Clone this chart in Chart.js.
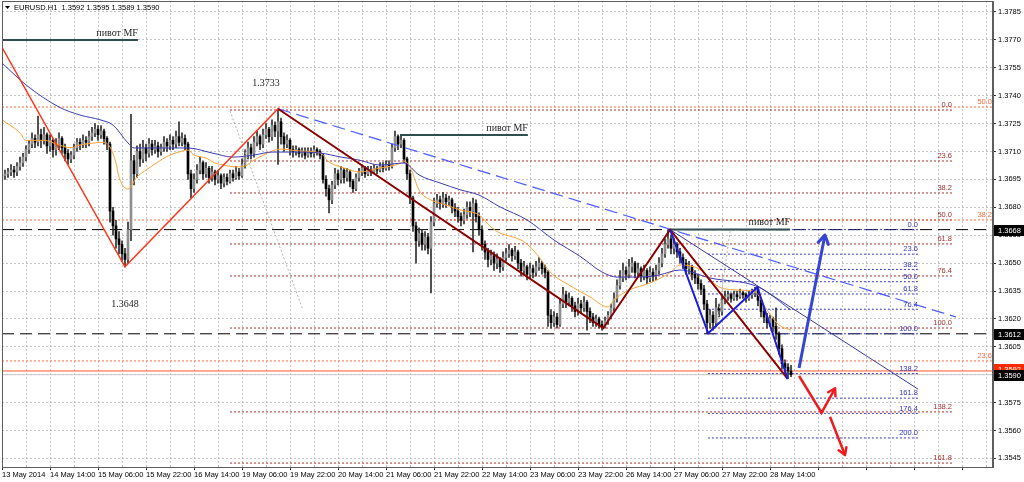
<!DOCTYPE html>
<html>
<head>
<meta charset="utf-8">
<title>EURUSD H1</title>
<script src="https://cdn.jsdelivr.net/npm/chart.js@4.4.1/dist/chart.umd.min.js"></script>
<style>
  html, body { margin: 0; padding: 0; background: #ffffff; overflow: hidden; }
  canvas { display: block; }
</style>
</head>
<body>
<canvas id="eurusd-chart" width="1024" height="482"></canvas>
<script>
// candle prices are kept in pips above 1.3500 (212 -> 1.3712), one entry per H1 bar
var pipBase = 1.35;
function pip(v) { return pipBase + v / 10000; }

var xLabels = ["13 May 2014", "14 May 14:00", "15 May 06:00", "15 May 22:00", "16 May 14:00",
    "19 May 06:00", "19 May 22:00", "20 May 14:00", "21 May 06:00", "21 May 22:00",
    "22 May 14:00", "23 May 06:00", "23 May 22:00", "26 May 14:00", "27 May 06:00",
    "27 May 22:00", "28 May 14:00"];
var yTickValues = [1.3545, 1.3560, 1.3575, 1.3590, 1.3605, 1.3620, 1.3635, 1.3650, 1.3665,
    1.3680, 1.3695, 1.3710, 1.3725, 1.3740, 1.3755, 1.3770, 1.3785];

var opens = [
    196,197,198,199,200,199,202,204,207,211, 214,217,215,219,216,219,213,216,211,214,
    217,212,209,206,208,212,215,214,216,215, 218,220,222,219,221,217,214,178,170,163,
    160,155,152,168,205,198,210,206,212,209, 214,211,213,210,212,215,213,216,214,218,
    215,217,214,198,190,195,200,204,198,201, 196,199,195,197,193,196,194,198,196,199,
    197,203,208,212,209,215,218,214,219,222, 218,224,221,226,218,214,216,211,210,211,
    209,210,208,210,209,211,210,208,195,190, 184,192,198,195,200,196,199,194,190,196,
    199,201,198,200,199,201,200,202,201,203, 202,212,218,214,216,206,198,185,170,162,
    166,160,164,158,172,182,184,182,185,183, 184,180,178,175,173,176,180,178,182,175,
    168,160,156,152,154,150,152,148,153,155, 157,154,156,150,146,148,144,147,145,148,
    150,147,145,122,118,121,117,128,133,129, 131,127,124,128,126,129,124,121,118,120,
    117,116,119,122,126,131,138,142,146,144, 148,150,145,147,143,146,142,145,143,146,
    150,155,160,163,158,160,156,153,150,147, 148,144,142,139,136,128,118,122,118,126,
    124,130,132,133,131,133,132,134,133,131, 133,134,136,130,124,121,118,120,116,112,
    104,96,94,92
];
var highs = [
    199,200,201,203,202,204,207,209,213,216, 220,219,229,222,223,220,219,217,217,220,
    218,214,211,210,214,217,217,219,218,221, 223,225,224,224,222,218,215,180,173,167,
    162,158,172,230,208,213,214,216,214,217, 216,216,215,214,218,217,219,218,221,226,
    220,219,215,200,198,203,207,205,204,202, 202,200,200,198,198,198,200,200,202,201,
    206,211,215,214,218,221,219,222,225,223, 227,226,233,228,220,219,217,213,213,212,
    212,212,212,212,213,212,211,209,197,192, 194,201,200,202,201,201,200,195,198,201,
    203,202,202,202,203,202,204,204,205,205, 214,221,219,219,217,207,200,186,172,169,
    168,167,166,175,185,187,186,188,187,186, 185,182,180,177,179,183,183,185,184,177,
    170,162,158,157,156,155,153,156,158,160, 158,159,157,152,151,149,150,149,151,153,
    151,149,146,125,124,123,131,137,135,134, 132,129,131,130,132,130,126,123,122,121,
    119,121,124,128,134,141,146,150,148,152, 153,151,150,148,149,147,148,147,149,153,
    158,163,168,165,163,161,158,155,152,151, 149,146,144,141,138,130,125,124,131,128,
    133,135,135,134,135,135,136,135,134,135, 136,137,137,131,126,123,122,121,126,113,
    106,98,96,95
];
var lows = [
    194,195,196,197,196,197,200,202,205,209, 212,212,213,212,214,209,210,207,208,211,
    209,205,203,204,206,210,211,212,212,213, 216,218,216,217,214,211,172,165,158,155,
    151,148,150,162,192,196,202,204,205,207, 208,209,207,208,210,210,211,211,212,213,
    213,211,195,185,188,193,198,195,196,193, 194,192,193,190,191,192,193,194,195,195,
    196,201,206,206,207,213,211,212,217,215, 216,218,203,214,210,212,208,207,208,207,
    207,206,207,207,207,208,206,193,186,177, 182,190,192,193,193,194,191,188,189,194,
    197,196,197,197,198,198,199,199,200,200, 201,210,211,212,204,195,182,167,150,159,
    157,157,155,134,170,180,179,180,180,181, 177,175,172,170,171,174,175,156,172,165,
    157,152,148,149,146,147,145,146,151,153, 151,152,147,143,144,141,142,142,143,146,
    144,142,116,115,116,115,116,126,126,127, 124,121,122,123,124,114,118,116,116,115,
    114,115,117,120,124,129,136,140,141,142, 145,142,143,140,141,139,140,140,141,144,
    148,153,158,155,155,153,150,147,144,144, 141,139,136,133,125,112,115,114,116,121,
    122,128,130,129,130,130,131,131,129,130, 131,132,127,121,118,115,116,113,109,101,
    93,91,88,89
];
var closes = [
    197,198,199,200,199,202,204,207,211,214, 217,215,219,216,219,213,216,211,214,217,
    212,209,206,208,212,215,214,216,215,218, 220,222,219,221,217,214,178,170,163,160,
    155,152,168,205,198,210,206,212,209,214, 211,213,210,212,215,213,216,214,218,215,
    217,214,198,190,195,200,204,198,201,196, 199,195,197,193,196,194,198,196,199,197,
    203,208,212,209,215,218,214,219,222,218, 224,221,226,218,214,216,211,210,211,209,
    210,208,210,209,211,210,208,195,190,184, 192,198,195,200,196,199,194,190,196,199,
    201,198,200,199,201,200,202,201,203,202, 212,218,214,216,206,198,185,170,162,166,
    160,164,158,172,182,184,182,185,183,184, 180,178,175,173,176,180,178,182,175,168,
    160,156,152,154,150,152,148,153,155,157, 154,156,150,146,148,144,147,145,148,150,
    147,145,122,118,121,117,128,133,129,131, 127,124,128,126,129,124,121,118,120,117,
    116,119,122,126,131,138,142,146,144,148, 150,145,147,143,146,142,145,143,146,150,
    155,160,163,158,160,156,153,150,147,148, 144,142,139,136,128,118,122,118,126,124,
    130,132,133,131,133,132,134,133,131,133, 134,136,130,124,121,118,120,116,112,104,
    96,94,92,90
];

// moving averages (bar index, pips)
var fastMaBars = [0,6,8,14,19,23,26,31,34,36, 38,39,42,45,49,53,56,59,62,64,
    68,71,74,78,81,84,88,91,93,99, 106,109,113,116,119,126,133,134,136,139,
    143,146,153,159,163,166,173,176,179,183, 189,196,202,204,209,216,223,226,233,239,
    246,251,255,259,263];
var fastMaValues = [227,220,216,216,213.5,212,213.5,214.6,215,212.4, 203.8,196.3,189.8,196.3,201.1,205.4,208.1,209.7,210.8,208.1,
    206.5,203.8,202.7,201.7,202.2,205.4,208.7,210.8,211.3,210.3, 209.2,204.4,201.7,200.1,199,201.1,203.8,204.9,201.7,189.3,
    183.9,182.3,178.5,175.9,169.4,166.2,162.4,158.7,153.3,144.7, 138.2,131.8,126.4,130.2,135.5,139.3,145.2,149,146.3,137.2,
    135.5,134.5,124.8,116.7,114];
var slowMaBars = [0,8,19,26,33,37,42,44,50,62, 70,77,84,90,97,106,113,119,126,134,
    139,146,153,159,166,175,184,193,200,205, 213,219,226,236,252,263];
var slowMaValues = [257.6,245.8,233.9,229.6,226.9,224.2,214.6,211.9,211.9,211.9, 209.2,207,208.1,209.7,209.7,209.2,207,205.4,202.7,203.8,
    197.4,193.1,189.3,186.6,180.2,173.2,162.4,153.3,145.2,142.5, 142.5,143.6,146.3,142,137.2,124.8];

// drawn objects (bar index, price)
var redZigBars = [0, 41, 92];
var redZigPrices = [1.3766, 1.3648, 1.3733];
var brownZigBars = [92, 200.4, 222.7, 261.9];
var brownZigPrices = [1.3733, 1.3615, 1.3668, 1.35877];
var blueZigBars = [222.7, 235.4, 251.8, 261.9];
var blueZigPrices = [1.3668, 1.36123, 1.3637, 1.35877];
var dashTrendBars = [92, 318];
var dashTrendPrices = [1.3733, 1.3621];
var thinTrendBars = [222.7, 305.4];
var thinTrendPrices = [1.3668, 1.35822];
var grayRay1Bars = [76, 100.3];
var grayRay1Prices = [1.37318, 1.36248];
var grayRay2Bars = [238.2, 242.7];
var grayRay2Prices = [1.3615, 1.36671];

var pivotFrom = [0, 132.7, 222.7];
var pivotTo = [45.3, 175.3, 262.7];
var pivotPrices = [1.3770, 1.37189, 1.3668];

var blackLevels = [1.3668, 1.3612];
var askPrice = 1.3592;
var bidPrice = 1.3590;

var brownFibLevels = ["0.0", "23.6", "38.2", "50.0", "61.8", "76.4", "100.0", "138.2", "161.8"];
var brownFibPrices = [1.37323, 1.37049, 1.36877, 1.36732, 1.36603, 1.36431, 1.36151, 1.35700, 1.35425];
var brownFibFrom = 76, brownFibTo = 317;
var blueFibLevels = ["0.0", "23.6", "38.2", "50.0", "61.8", "76.4", "100.0", "138.2", "161.8", "176.4", "200.0"];
var blueFibPrices = [1.3668, 1.36548, 1.36466, 1.36400, 1.36334, 1.36252, 1.3612, 1.35906, 1.35774, 1.35692, 1.35560];
var blueFibFrom = 235.3, blueFibTo = 305.3;
var orangeFibLevels = ["50.0", "38.2", "23.6"];
var orangeFibPrices = [1.37339, 1.36732, 1.35974];

var blueArrowBars = [265.7, 274.3];
var blueArrowPrices = [1.35936, 1.36651];
var redArrowBars = [265.7, 273.2, 277.7];
var redArrowPrices = [1.35893, 1.35696, 1.35827];
var redArrow2Bars = [276, 281];
var redArrow2Prices = [1.35674, 1.35468];

var noteTexts = ["1.3733", "1.3648"];
var noteBars = [88, 41];
var notePrices = [1.37468, 1.3628];

var titleText = "EURUSD.H1  1.3592 1.3595 1.3589 1.3590";

var xMax = 991 / 3;
var yMin = 1.354038, yMax = 1.379091;

function seg(bars, prices, color, width, dash, order) {
    return {
        type: 'line',
        data: bars.map(function (b, i) { return { x: b, y: prices[i] }; }),
        borderColor: color,
        borderWidth: width,
        borderDash: dash || [],
        pointRadius: 0,
        fill: false,
        tension: 0,
        order: order
    };
}

var datasets = [];

// horizontal levels
orangeFibPrices.forEach(function (p) {
    datasets.push(seg([0, xMax], [p, p], '#ff6a3c', 1, [2, 2], 40));
});
brownFibPrices.forEach(function (p) {
    datasets.push(seg([brownFibFrom, brownFibTo], [p, p], '#b0302c', 1, [2, 2], 40));
});
blueFibPrices.forEach(function (p) {
    datasets.push(seg([blueFibFrom, blueFibTo], [p, p], '#3838c8', 1, [2, 2], 40));
});
blackLevels.forEach(function (p) {
    datasets.push(seg([0, xMax], [p, p], '#000000', 1, [12, 6], 40));
});
datasets.push(seg([0, xMax], [bidPrice, bidPrice], '#c8c8c8', 1, [], 41));
datasets.push(seg([0, xMax], [askPrice, askPrice], '#ff5a30', 1, [], 40));

// candles
var wickData = [], bullData = [], bearData = [];
for (var k = 0; k < closes.length; k++) {
    wickData.push({ x: k, y: [pip(lows[k]), pip(highs[k])] });
    var body = { x: k, y: [pip(opens[k]), pip(closes[k])] };
    if (closes[k] >= opens[k]) bullData.push(body); else bearData.push(body);
}
datasets.push({ type: 'bar', data: wickData, backgroundColor: '#303030', barThickness: 1, grouped: false, order: 32 });
datasets.push({ type: 'bar', data: bullData, backgroundColor: '#8e8e8e', barThickness: 2, minBarLength: 1, grouped: false, order: 30 });
datasets.push({ type: 'bar', data: bearData, backgroundColor: '#000000', barThickness: 2, minBarLength: 1, grouped: false, order: 30 });

// moving averages
datasets.push({
    type: 'line',
    data: slowMaBars.map(function (b, i) { return { x: b, y: pip(slowMaValues[i]) }; }),
    borderColor: '#3c3cb4', borderWidth: 1, pointRadius: 0, cubicInterpolationMode: 'monotone', order: 20
});
datasets.push({
    type: 'line',
    data: fastMaBars.map(function (b, i) { return { x: b, y: pip(fastMaValues[i]) }; }),
    borderColor: '#ffa436', borderWidth: 1, pointRadius: 0, cubicInterpolationMode: 'monotone', order: 20
});

// pivot lines
pivotPrices.forEach(function (p, i) {
    datasets.push(seg([pivotFrom[i], pivotTo[i]], [p, p], '#2f4f4f', 2, [], 8));
});

// trend lines and zigzags
datasets.push(seg(grayRay1Bars, grayRay1Prices, '#b4b4b4', 1, [2, 2], 12));
datasets.push(seg(grayRay2Bars, grayRay2Prices, '#b4b4b4', 1, [2, 2], 12));
datasets.push(seg(dashTrendBars, dashTrendPrices, '#4a5cff', 1.2, [13, 6], 10));
datasets.push(seg(thinTrendBars, thinTrendPrices, '#3a3aa0', 1, [], 10));
datasets.push(seg(redZigBars, redZigPrices, '#ff3418', 1.5, [], 5));
datasets.push(seg(brownZigBars, brownZigPrices, '#8b0000', 2, [], 5));
datasets.push(seg(blueZigBars, blueZigPrices, '#1c1ce0', 2, [], 4));

// arrows
datasets.push(seg(blueArrowBars, blueArrowPrices, '#3446d2', 3, [], 1));
datasets.push(seg(redArrowBars, redArrowPrices, '#ee1c1c', 2.5, [], 1));
datasets.push(seg(redArrow2Bars, redArrow2Prices, '#ee1c1c', 2.5, [], 1));

function arrowHead(ctx, x0, y0, x1, y1, color, len, width) {
    var a = Math.atan2(y1 - y0, x1 - x0);
    ctx.save();
    ctx.strokeStyle = color;
    ctx.lineWidth = width;
    ctx.lineCap = 'round';
    ctx.lineJoin = 'round';
    ctx.beginPath();
    ctx.moveTo(x1 - len * Math.cos(a - 0.55), y1 - len * Math.sin(a - 0.55));
    ctx.lineTo(x1, y1);
    ctx.lineTo(x1 - len * Math.cos(a + 0.55), y1 - len * Math.sin(a + 0.55));
    ctx.stroke();
    ctx.restore();
}

var smallFont = '7.5px "Liberation Sans", Arial, sans-serif';
var serifFont = '10px "Liberation Serif", "Times New Roman", serif';

var overlay = {
    id: 'overlay',
    afterDatasetsDraw: function (chart) {
        var ctx = chart.ctx, xs = chart.scales.x, ys = chart.scales.y;
        var X = function (v) { return xs.getPixelForValue(v); };
        var Y = function (v) { return ys.getPixelForValue(v); };
        ctx.save();
        ctx.beginPath();
        ctx.rect(chart.chartArea.left, chart.chartArea.top, chart.chartArea.right - chart.chartArea.left, chart.chartArea.bottom - chart.chartArea.top);
        ctx.clip();

        // arrow heads
        var n;
        arrowHead(ctx, X(blueArrowBars[0]), Y(blueArrowPrices[0]), X(blueArrowBars[1]), Y(blueArrowPrices[1]), '#3446d2', 10, 3);
        n = redArrowBars.length;
        arrowHead(ctx, X(redArrowBars[n - 2]), Y(redArrowPrices[n - 2]), X(redArrowBars[n - 1]), Y(redArrowPrices[n - 1]), '#ee1c1c', 8, 2.5);
        arrowHead(ctx, X(redArrow2Bars[0]), Y(redArrow2Prices[0]), X(redArrow2Bars[1]), Y(redArrow2Prices[1]), '#ee1c1c', 8, 2.5);

        // fib labels
        ctx.font = smallFont;
        ctx.textAlign = 'right';
        ctx.textBaseline = 'bottom';
        ctx.fillStyle = '#a83030';
        brownFibLevels.forEach(function (t, i) { ctx.fillText(t, X(brownFibTo) - 1, Y(brownFibPrices[i]) - 1); });
        ctx.fillStyle = '#3434c0';
        blueFibLevels.forEach(function (t, i) { ctx.fillText(t, X(blueFibTo), Y(blueFibPrices[i]) - 1); });
        ctx.fillStyle = '#ff6a3c';
        orangeFibLevels.forEach(function (t, i) { ctx.fillText(t, X(xMax) - 1, Y(orangeFibPrices[i]) - 1); });

        // pivot labels and notes
        ctx.font = serifFont;
        ctx.fillStyle = '#1e1e1e';
        ctx.textAlign = 'right';
        ctx.textBaseline = 'bottom';
        pivotPrices.forEach(function (p, i) { ctx.fillText('пивот MF', X(pivotTo[i]), Y(p) - 2); });
        ctx.textAlign = 'center';
        ctx.textBaseline = 'middle';
        noteTexts.forEach(function (t, i) { ctx.fillText(t, X(noteBars[i]), Y(notePrices[i])); });
        ctx.restore();
    },
    afterDraw: function (chart) {
        var ctx = chart.ctx, ys = chart.scales.y, a = chart.chartArea;
        ctx.save();
        // frame
        ctx.strokeStyle = '#5e5e5e';
        ctx.lineWidth = 1;
        ctx.strokeRect(a.left + 0.5, a.top + 0.5, a.right - a.left - 1, a.bottom - a.top);

        // price tags on the axis
        function tag(price, bg, text) {
            var y = Math.round(ys.getPixelForValue(price));
            ctx.fillStyle = bg;
            ctx.fillRect(a.right + 1, y - 5, chart.width - a.right - 1, 11);
            ctx.fillStyle = '#ffffff';
            ctx.font = smallFont;
            ctx.textAlign = 'left';
            ctx.textBaseline = 'middle';
            ctx.fillText(text, a.right + 5, y + 0.5);
        }
        tag(askPrice + 0.0001, '#ff2a00', (askPrice).toFixed(4));
        blackLevels.forEach(function (p) { tag(p, '#000000', p.toFixed(4)); });
        tag(bidPrice, '#000000', bidPrice.toFixed(4));

        // title
        ctx.fillStyle = '#000000';
        ctx.beginPath();
        ctx.moveTo(5, 6);
        ctx.lineTo(10, 6);
        ctx.lineTo(7.5, 9);
        ctx.closePath();
        ctx.fill();
        ctx.font = smallFont;
        ctx.textAlign = 'left';
        ctx.textBaseline = 'middle';
        ctx.fillText(titleText, 14, 8);
        ctx.restore();
    }
};

var chart = new Chart(document.getElementById('eurusd-chart').getContext('2d'), {
    type: 'line',
    data: { datasets: datasets },
    options: {
        responsive: false,
        animation: false,
        events: [],
        layout: { padding: { left: 2, top: 1, right: 0, bottom: 0 }, autoPadding: false },
        plugins: { legend: { display: false }, tooltip: { enabled: false } },
        scales: {
            x: {
                type: 'linear',
                position: 'bottom',
                min: 0,
                max: xMax,
                offset: false,
                afterBuildTicks: function (scale) {
                    var t = [];
                    for (var v = 0; v <= xMax; v += 8) t.push({ value: v });
                    scale.ticks = t;
                },
                afterFit: function (scale) {
                    scale.height = 15;
                    scale.paddingLeft = 0;
                    scale.paddingRight = 0;
                },
                ticks: {
                    autoSkip: false,
                    maxRotation: 0,
                    minRotation: 0,
                    align: 'start',
                    padding: 0,
                    color: '#000000',
                    font: { family: 'Liberation Sans', size: 7.5 },
                    callback: function (v) { return v % 16 === 0 ? (xLabels[v / 16] || '') : ''; }
                },
                grid: {
                    offset: false,
                    color: '#c4c4c4',
                    lineWidth: 1,
                    tickLength: 3,
                    tickColor: function (c) { return c.tick && c.tick.value % 16 === 0 ? '#303030' : 'rgba(0,0,0,0)'; }
                },
                border: { display: true, color: '#5e5e5e', dash: [2, 2] }
            },
            y: {
                type: 'linear',
                position: 'right',
                min: yMin,
                max: yMax,
                afterBuildTicks: function (scale) {
                    scale.ticks = yTickValues.map(function (v) { return { value: v }; });
                },
                afterFit: function (scale) {
                    scale.width = 31;
                    scale.paddingTop = 0;
                    scale.paddingBottom = 0;
                },
                ticks: {
                    padding: 2,
                    color: '#000000',
                    font: { family: 'Liberation Sans', size: 7.5 },
                    callback: function (v) { return Number(v).toFixed(4); }
                },
                grid: { color: '#c4c4c4', lineWidth: 1, tickLength: 3, tickColor: '#303030' },
                border: { display: true, color: '#5e5e5e', dash: [2, 2] }
            }
        }
    },
    plugins: [overlay]
});
</script>
</body>
</html>
